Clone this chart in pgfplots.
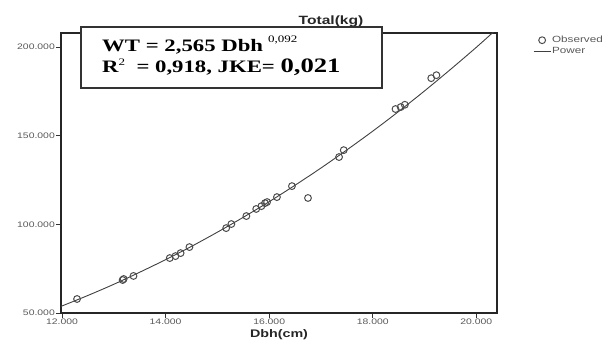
\documentclass[border=0pt]{standalone}
\usepackage{pgfplots}
\pgfplotsset{compat=1.18}
\usepackage{fontspec}
\setmainfont{Liberation Serif}
\setsansfont{Liberation Sans}
\newcommand{\sx}[1]{\scalebox{1.3}[1]{#1}}
\begin{document}
\begin{tikzpicture}[x=1pt,y=1pt]
\path[use as bounding box] (0,0) rectangle (614,345);
\begin{axis}[
  at={(61pt,32pt)}, anchor=south west,
  scale only axis, width=436pt, height=280pt,
  xmin=11.98, xmax=20.4, ymin=50, ymax=208,
  axis line style={line width=1.4pt, black!85},
  xtick={12,14,16,18,20},
  xticklabels={\sx{12.000},\sx{14.000},\sx{16.000},\sx{18.000},\sx{20.000}},
  ytick={50,100,150,200},
  yticklabels={\sx{50.000},\sx{100.000},\sx{150.000},\sx{200.000}},
  tick align=outside, tick pos=left, major tick length=5pt,
  tick style={line width=0.8pt, black!80},
  tick label style={font=\sffamily\fontsize{8}{8}\selectfont, text=black!65},
  xticklabel style={inner sep=1pt},
  yticklabel style={inner sep=1pt},
  xlabel={\sx{Dbh(cm)}},
  xlabel style={font=\sffamily\bfseries\fontsize{11}{11}\selectfont, text=black!85, inner sep=0pt, at={(0.5,0)}, anchor=center, yshift=-22pt},
  legend style={at={(1,1)}, anchor=north west, xshift=33pt, yshift=0pt, draw=none, fill=none,
    font=\sffamily\fontsize{9}{9}\selectfont, text=black!65, row sep=1pt,
    nodes={inner sep=1pt}},
  legend cell align=left,
  legend image code/.code={\draw[mark repeat=2, mark phase=2, #1] plot coordinates {(0pt,0pt) (8.5pt,0pt) (17pt,0pt)};},
]
\addplot[only marks, mark=o, mark size=3.4pt, mark options={line width=1pt, draw=black!70}]
coordinates {
(12.29,57.9) (13.17,68.6) (13.19,69.2) (13.38,70.9) (14.08,81.0) (14.19,82.1)
(14.29,83.8) (14.46,87.2) (15.17,97.9) (15.27,100.2) (15.56,104.7) (15.75,108.7)
(15.85,110.3) (15.92,112.0) (15.96,112.6) (16.15,115.4) (16.44,121.6) (16.75,114.9)
(17.35,138.0) (17.44,141.9) (18.44,165.1) (18.54,166.2) (18.62,167.5) (19.13,182.5)
(19.23,184.2)
};
\addlegendentry{\sx{Observed}}
\addplot[black!75, line width=0.9pt, smooth, no marks]
coordinates {
(11.97,53.6) (12,53.97) (12.5,59.9) (13,66.2) (13.5,73.0) (14,80.1) (14.5,87.6)
(15,95.6) (15.5,104.0) (16,112.8) (16.5,122.1) (17,131.8) (17.5,142.0)
(18,152.6) (18.5,163.7) (19,175.3) (19.5,187.4) (20,199.9) (20.4,210.4)
};
\addlegendentry{\sx{Power}}
\end{axis}
% title
\node[font=\sffamily\bfseries\fontsize{12}{12}\selectfont, text=black!85, inner sep=0pt] at (331,324) {\sx{Total(kg)}};
% equation box
\draw[line width=1.3pt, black!80, fill=white] (81,257) rectangle (382,318);
\node[anchor=base west, inner sep=0pt, font=\bfseries\fontsize{17.5}{18}\selectfont] at (102,293) {\sx{WT = 2,565 Dbh}};
\node[anchor=base west, inner sep=0pt, font=\fontsize{10}{10}\selectfont] at (268,302) {\sx{0,092}};
\node[anchor=base west, inner sep=0pt, font=\bfseries\fontsize{17.5}{18}\selectfont] at (102,272) {\sx{R\raisebox{7pt}{\mdseries\fontsize{10}{10}\selectfont 2}\ \ = 0,918, JKE= {\fontsize{20.5}{21}\selectfont 0,021}}};
\end{tikzpicture}
\end{document}
